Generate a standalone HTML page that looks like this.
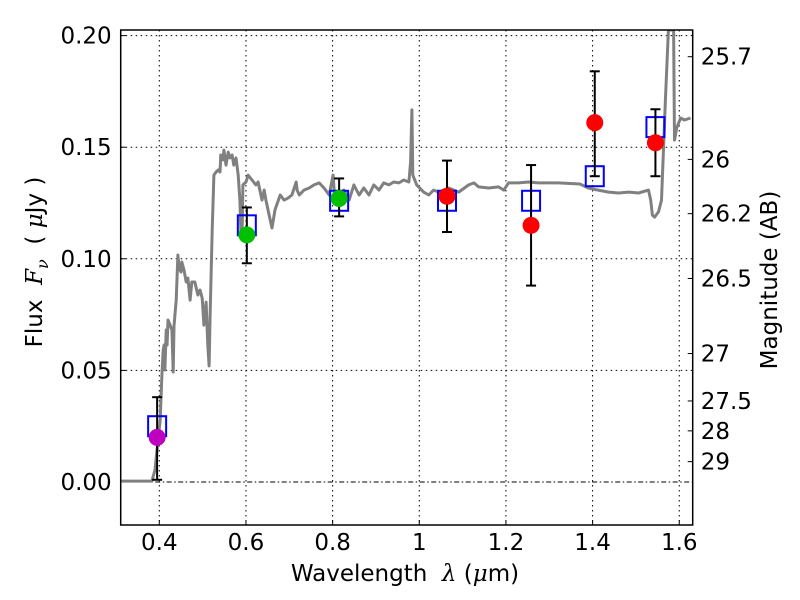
<!DOCTYPE html>
<html><head><meta charset="utf-8"><style>
body{margin:0;background:#fff}
svg{display:block;font-family:"DejaVu Sans","Liberation Sans",sans-serif}
</style></head><body>
<svg id="chart" width="800" height="600" xmlns="http://www.w3.org/2000/svg"></svg>
<script>
const specLam=[0.309,0.383,0.390,0.397,0.402,0.406,0.409,0.411,0.413,0.416,0.418,0.420,0.425,0.429,0.432,0.434,0.439,0.443,0.445,0.448,0.450,0.452,0.457,0.462,0.466,0.471,0.475,0.482,0.489,0.494,0.499,0.503,0.508,0.512,0.515,0.517,0.522,0.526,0.531,0.536,0.540,0.542,0.547,0.549,0.554,0.559,0.563,0.568,0.572,0.577,0.582,0.586,0.588,0.591,0.593,0.600,0.605,0.614,0.623,0.628,0.637,0.642,0.646,0.656,0.660,0.667,0.679,0.688,0.697,0.706,0.716,0.718,0.723,0.734,0.746,0.757,0.769,0.780,0.792,0.801,0.805,0.815,0.826,0.838,0.849,0.861,0.872,0.884,0.895,0.907,0.918,0.930,0.941,0.953,0.964,0.976,0.980,0.983,0.985,0.994,1.010,1.022,1.033,1.045,1.056,1.068,1.091,1.114,1.126,1.137,1.160,1.183,1.195,1.206,1.229,1.252,1.275,1.321,1.371,1.390,1.413,1.437,1.460,1.483,1.506,1.529,1.534,1.538,1.543,1.552,1.559,1.568,1.575,1.587,1.589,1.594,1.603,1.612,1.626];
const specFlux=[0.0004,0.0004,0.0054,0.0188,0.0278,0.0479,0.0591,0.0614,0.0502,0.0681,0.0614,0.0726,0.0703,0.0681,0.0493,0.0699,0.0815,0.1017,0.0972,0.095,0.0941,0.0986,0.095,0.0896,0.0914,0.0815,0.0896,0.0896,0.0838,0.086,0.0824,0.0703,0.0806,0.0614,0.052,0.0726,0.1129,0.1375,0.1389,0.1398,0.1389,0.1465,0.1443,0.1487,0.142,0.1478,0.1452,0.1465,0.142,0.1452,0.1375,0.1263,0.1129,0.1107,0.1331,0.1344,0.1375,0.1353,0.1331,0.1344,0.1263,0.1308,0.1263,0.1174,0.1138,0.1219,0.1286,0.1263,0.1272,0.1286,0.1344,0.1308,0.1286,0.1308,0.1317,0.1331,0.134,0.1317,0.1286,0.1375,0.1263,0.1286,0.1308,0.1263,0.1331,0.1286,0.1317,0.1286,0.1331,0.1308,0.134,0.1331,0.1344,0.134,0.1353,0.1344,0.1434,0.1667,0.1375,0.1331,0.1299,0.1286,0.1308,0.1299,0.1308,0.1317,0.1299,0.1331,0.134,0.1322,0.1317,0.1322,0.1308,0.134,0.134,0.1344,0.134,0.134,0.1335,0.1317,0.1308,0.1299,0.1295,0.1299,0.1295,0.1308,0.1263,0.1196,0.1187,0.121,0.1263,0.1711,0.2025,0.2025,0.1532,0.1586,0.1631,0.1622,0.1631];
const photLam=[0.395,0.602,0.815,1.064,1.258,1.405,1.545];
const modelFlux=[0.025,0.115,0.126,0.126,0.126,0.137,0.159];
const obsLam=[0.395,0.602,0.815,1.064,1.258,1.405,1.545];
const obsFlux=[0.020,0.1107,0.127,0.128,0.115,0.161,0.152];
const obsLo=[0.001,0.098,0.119,0.112,0.088,0.137,0.137];
const obsHi=[0.038,0.123,0.136,0.144,0.142,0.184,0.167];
const obsColor=['#bf00bf','#00c000','#00c000','#ff0000','#ff0000','#ff0000','#ff0000'];
const xTicks=[0.4,0.6,0.8,1.0,1.2,1.4,1.6];
const xTickLabels=['0.4','0.6','0.8','1','1.2','1.4','1.6'];
const yTicks=[0,0.05,0.10,0.15,0.20];
const yTickLabels=['0.00','0.05','0.10','0.15','0.20'];
const magTicks=[25.7,26,26.2,26.5,27,27.5,28,29];

const L=120.7,R=692.7,T=30,B=525;
const FS=23;
const X=v=>159.3+(v-0.4)*433.3;
const Y=v=>482-v*2232;
const svg=document.getElementById('chart');
const NS='http://www.w3.org/2000/svg';
function mk(tag,attrs,parent){const e=document.createElementNS(NS,tag);for(const k in attrs)e.setAttribute(k,attrs[k]);(parent||svg).appendChild(e);return e;}

const defs=mk('defs',{});
const cp=mk('clipPath',{id:'clip'},defs);
mk('rect',{x:L,y:T,width:R-L,height:B-T},cp);

xTicks.forEach((t,i)=>{
  const g=mk('line',{x1:X(t),x2:X(t),y1:T,y2:B,stroke:'#000','stroke-width':1,'stroke-dasharray':'1.5,3.5'});
  
  
  const tk=mk('line',{x1:X(t),x2:X(t),y1:B,y2:B-5,stroke:'#000','stroke-width':1});
  
  
  const tx=mk('text',{x:X(t),y:B+25,'font-size':FS,'text-anchor':'middle'});
  tx.textContent=xTickLabels[i];
  
  
});
yTicks.forEach((t,i)=>{
  if(t!==0){
    const g=mk('line',{x1:L,x2:R,y1:Y(t),y2:Y(t),stroke:'#000','stroke-width':1,'stroke-dasharray':'1.5,3.5'});
    
    
  }
  const tk=mk('line',{x1:L,x2:L+5,y1:Y(t),y2:Y(t),stroke:'#000','stroke-width':1});
  
  
  const tx=mk('text',{x:L-9,y:Y(t)+8,'font-size':FS,'text-anchor':'end'});
  tx.textContent=yTickLabels[i];
  
  
});
const zl=mk('line',{x1:L,x2:R,y1:Y(0),y2:Y(0),stroke:'#000','stroke-width':1,'stroke-dasharray':'5,2.5,1.5,2.5'});



let d='';
specLam.forEach((l,i)=>{d+=(i?'L':'M')+X(l).toFixed(1)+','+Y(specFlux[i]).toFixed(1);});
const sp=mk('path',{d:d,fill:'none',stroke:'#808080','stroke-width':3,'stroke-linejoin':'round','clip-path':'url(#clip)'});



photLam.forEach((l,i)=>{
  const r=mk('rect',{x:X(l)-9,y:Y(modelFlux[i])-10,width:18,height:20,fill:'none',stroke:'#0000ff','stroke-width':2});
  
  
});
obsLam.forEach((l,i)=>{
  const g=mk('g',{});
  
  
  const x=X(l);
  mk('line',{x1:x,x2:x,y1:Y(obsLo[i]),y2:Y(obsHi[i]),stroke:'#000','stroke-width':2},g);
  mk('line',{x1:x-5,x2:x+5,y1:Y(obsLo[i]),y2:Y(obsLo[i]),stroke:'#000','stroke-width':2},g);
  mk('line',{x1:x-5,x2:x+5,y1:Y(obsHi[i]),y2:Y(obsHi[i]),stroke:'#000','stroke-width':2},g);
  mk('circle',{cx:x,cy:Y(obsFlux[i]),r:8.5,fill:obsColor[i]},g);
});

const fr=mk('rect',{x:L,y:T,width:R-L,height:B-T,fill:'none',stroke:'#000','stroke-width':1.5});



magTicks.forEach(m=>{
  const f=Math.pow(10,-(m-23.9)/2.5);
  const y=Y(f);
  const tk=mk('line',{x1:R,x2:R-5,y1:y,y2:y,stroke:'#000','stroke-width':1});
  
  
  const tx=mk('text',{x:R+8,y:y+8,'font-size':FS});
  tx.textContent=String(m);
  
  
});
</script>
<div style="position:absolute;left:0;top:0;width:800px;height:600px;pointer-events:none;font-family:'DejaVu Sans','Liberation Sans',sans-serif">
  <div style="position:absolute;left:405px;top:574px;font-size:23px;white-space:nowrap;transform:translate(-50%,-50%)">Wavelength&nbsp; <i style="font-family:'DejaVu Serif',serif">λ</i> (<i style="font-family:'DejaVu Serif',serif">μ</i>m)</div>
  <div style="position:absolute;left:37px;top:262px;font-size:23px;white-space:nowrap;transform:translate(-50%,-50%) rotate(-90deg)">Flux&nbsp; <i style="font-family:'DejaVu Serif',serif">F<sub style="font-size:16px">ν</sub></i>&nbsp; ( <i style="font-family:'DejaVu Serif',serif">μ</i>Jy )</div>
  <div style="position:absolute;left:770px;top:280px;font-size:23px;white-space:nowrap;transform:translate(-50%,-50%) rotate(-90deg)">Magnitude (AB)</div>
</div>
</body></html>
